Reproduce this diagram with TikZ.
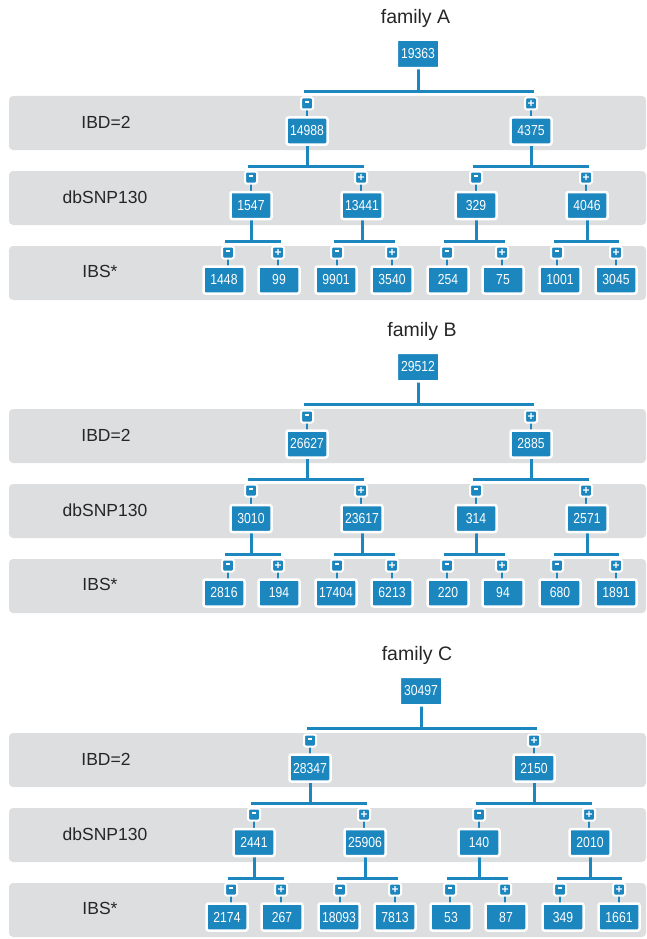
\documentclass[tikz,border=0pt]{standalone}
\usepackage{fontspec}
\setmainfont{Liberation Sans}
\newfontfamily\numfont[FakeStretch=0.84]{Liberation Sans}
\definecolor{nblue}{RGB}{28,134,190}
\definecolor{bandgray}{RGB}{221,222,224}
\pgfdeclarelayer{bandlayer}
\pgfdeclarelayer{linelayer}
\pgfsetlayers{bandlayer,linelayer,main}
\tikzset{
 nbox/.style={fill=nblue, draw=white, line width=2.5pt, rounded corners=2pt, minimum width=41pt, minimum height=27pt, inner sep=0pt, text=white, font=\numfont\fontsize{14.5}{14.5}\selectfont},
 rootbox/.style={nbox, minimum width=42.5pt, minimum height=28.5pt, rounded corners=1pt},
 signbox/.style={fill=nblue, draw=white, line width=2pt, rounded corners=1.5pt, minimum size=12pt, inner sep=0pt, text=white, font=\bfseries\fontsize{12}{12}\selectfont},
 conn/.style={draw=nblue, line width=3pt},
 stub/.style={draw=nblue, line width=2pt},
 band/.style={fill=bandgray, rounded corners=4pt},
 bandlabel/.style={anchor=base, font=\fontsize{17.5}{17.5}\selectfont, text=black!85},
 famtitle/.style={anchor=base, font=\fontsize{19.5}{19.5}\selectfont, text=black!85},
}
\newcommand\minussign{\rule[2.6pt]{4.5pt}{2pt}}
\newcommand\plussign{+}
\def\BX{{418,307,531,251,362,476,587,224,279,336,392,448,503,560,616}}
\def\BY{{54,131,131,205.5,205.5,205.5,205.5,280,280,280,280,280,280,280,280}}
\def\MX{{0,307,531,251,361,476,586,228,278,337,392,447,502,557,616}}
\def\MY{{0,103.5,103.5,177.5,177.5,177.5,177.5,252.5,252.5,252.5,252.5,252.5,252.5,252.5,252.5}}
\def\BarY{{91.3,166.5,166.5,241.7,241.7,241.7,241.7}}

\newcommand\famtree[6]{%
 \begin{scope}[shift={(0,#3)}]
  \begin{pgfonlayer}{bandlayer}
   \fill[band] (9,96) rectangle (646,150);
   \fill[band] (9,171) rectangle (646,225);
   \fill[band] (9,246) rectangle (646,300);
  \end{pgfonlayer}
  \node[bandlabel] (#1-lab1) at (106,128.3) {IBD=2};
  \node[bandlabel] (#1-lab2) at (105,203) {dbSNP130};
  \node[bandlabel] (#1-lab3) at (100,277) {IBS*};
  \node[famtitle] (#1-title) at (#4,23.3) {#5};
 \end{scope}
 \begin{scope}[shift={(#2,#3)}]
  \foreach \v [count=\i] in {#6} {
    \pgfmathsetmacro\bx{\BX[\i-1]}
    \pgfmathsetmacro\by{\BY[\i-1]}
    \ifnum\i=1
      \node[rootbox] (#1-n\i) at (\bx,\by) {\v};
    \else
      \node[nbox] (#1-n\i) at (\bx,\by) {\v};
      \pgfmathsetmacro\mx{\MX[\i-1]}
      \pgfmathsetmacro\my{\MY[\i-1]}
      \node[signbox] (#1-m\i) at (\mx,\my) {\ifodd\i\relax\plussign\else\minussign\fi};
      \begin{pgfonlayer}{linelayer}
        \draw[stub] (#1-m\i.center) -- (#1-m\i.center |- #1-n\i.center);
      \end{pgfonlayer}
    \fi
  }
  \foreach \p in {1,...,7} {
    \pgfmathtruncatemacro\cL{2*\p}
    \pgfmathtruncatemacro\cR{2*\p+1}
    \pgfmathsetmacro\byy{\BarY[\p-1]}
    \pgfmathsetmacro\pxx{\BX[\p-1]}
    \pgfmathsetmacro\lx{\MX[\cL-1]-3}
    \pgfmathsetmacro\rx{\MX[\cR-1]+3}
    \coordinate (#1-b\p) at (\pxx,\byy);
    \coordinate (#1-bl\p) at (\lx,\byy);
    \coordinate (#1-br\p) at (\rx,\byy);
    \begin{pgfonlayer}{linelayer}
      \draw[conn] (#1-n\p.center) -- (#1-b\p);
      \draw[conn] (#1-bl\p) -- (#1-br\p);
    \end{pgfonlayer}
  }
 \end{scope}
}

\begin{document}
\begin{tikzpicture}[x=1pt,y=-1pt]
\useasboundingbox (0,0) rectangle (646,939);
\famtree{A}{0}{0}{415.5}{family A}{19363,14988,4375,1547,13441,329,4046,1448,99,9901,3540,254,75,1001,3045}
\famtree{B}{0}{313}{422}{family B}{29512,26627,2885,3010,23617,314,2571,2816,194,17404,6213,220,94,680,1891}
\famtree{C}{3}{637}{417}{family C}{30497,28347,2150,2441,25906,140,2010,2174,267,18093,7813,53,87,349,1661}
\end{tikzpicture}
\end{document}
